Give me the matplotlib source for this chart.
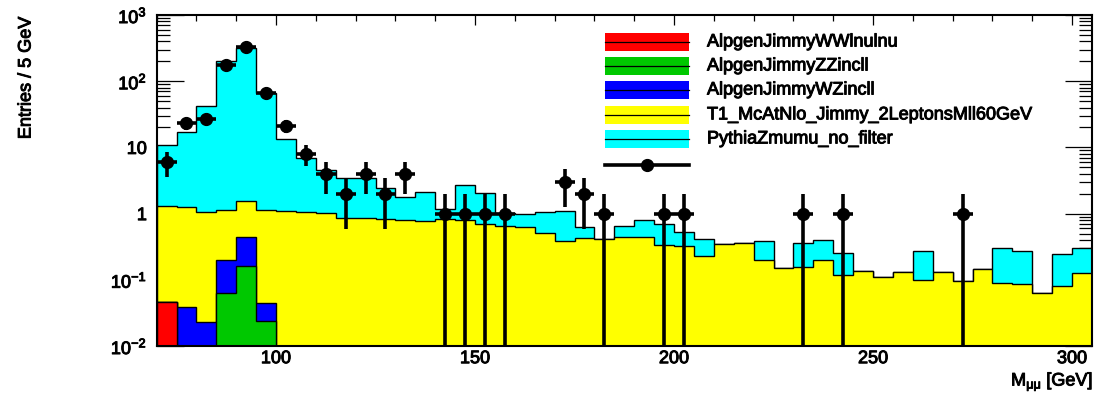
import numpy as np
import matplotlib
matplotlib.use('Agg')
import matplotlib.pyplot as plt
import matplotlib.patheffects as pe
from matplotlib.patches import Rectangle
from matplotlib.lines import Line2D
from matplotlib.ticker import MultipleLocator, LogLocator, NullFormatter

plt.rcParams['font.family'] = 'Liberation Sans'
plt.rcParams['mathtext.fontset'] = 'custom'
plt.rcParams['mathtext.rm'] = 'Liberation Sans'
plt.rcParams['mathtext.it'] = 'Liberation Sans:italic'
plt.rcParams['mathtext.bf'] = 'Liberation Sans:bold'

# 5 GeV bins from 70 to 305 GeV
edges = np.arange(70, 310, 5)
nbins = len(edges) - 1

# per-sample expected entries per bin
ww = np.zeros(nbins)
ww[0] = 0.046

zz = np.zeros(nbins)
zz[3:6] = [0.063, 0.16, 0.024]

wz = np.zeros(nbins)
wz[1:6] = [0.039, 0.023, 0.134, 0.29, 0.021]

t1 = np.array([1.25, 1.23, 1.03, 0.95, 1.10, 1.07, 1.10, 1.05, 1.03, 0.86,
               0.85, 0.83, 0.80, 0.77, 0.82, 0.80, 0.69, 0.65, 0.62, 0.515,
               0.38, 0.43, 0.42, 0.45, 0.44, 0.34, 0.32, 0.23, 0.35, 0.365,
               0.20, 0.153, 0.158, 0.20, 0.12, 0.136, 0.111, 0.13, 0.099, 0.13,
               0.096, 0.148, 0.09, 0.085, 0.063, 0.081, 0.126])

zmumu = np.array([9.7, 15.6, 40.5, 204, 320, 65, 12.5, 5.75, 3.47, 2.64,
                  2.65, 1.62, 1.00, 1.37, 0.34, 1.86, 1.38, 0.38, 0.35, 0.535,
                  0.71, 0.19, 0.0, 0.19, 0.36, 0.35, 0.21, 0.18, 0.0, 0.0,
                  0.19, 0.0, 0.198, 0.20, 0.13, 0.0, 0.0, 0.0, 0.176, 0.0,
                  0.0, 0.0, 0.216, 0.187, 0.0, 0.168, 0.18])

data = np.array([6, 23, 27, 178, 331, 67, 21, 8, 4, 2, 4, 2, 4, 0,
                 1, 1, 1, 1, 0, 0, 3, 2, 1, 0, 0, 1, 1, 0, 0, 0, 0, 0,
                 1, 0, 1, 0, 0, 0, 0, 0, 1, 0, 0, 0, 0, 0, 0])

samples = ['AlpgenJimmyWWlnulnu', 'AlpgenJimmyZZincll', 'AlpgenJimmyWZincll',
           'T1_McAtNlo_Jimmy_2LeptonsMll60GeV', 'PythiaZmumu_no_filter']
colors = ['#ff0000', '#00c800', '#0000ff', '#ffff00', '#00ffff']
ytick_vals = [1e-2, 1e-1, 1, 10, 1e2, 1e3]
ytick_labels = [r'$\mathregular{10^{-2}}$', r'$\mathregular{10^{-1}}$', '1', '10',
                r'$\mathregular{10^{2}}$', r'$\mathregular{10^{3}}$']

# slightly heavier glyphs
heavy = [pe.withStroke(linewidth=0.7, foreground='black')]

W, H = 1099, 408
fig = plt.figure(figsize=(W / 100, H / 100), dpi=100)
ax = fig.add_axes([156.6 / W, 1 - 346 / H, (1092 - 156.6) / W, (346 - 15) / H])
ax.set_yscale('log')

# stacked histogram: draw the cumulative sums from the top layer down
stack = np.cumsum([ww, zz, wz, t1, zmumu], axis=0)
floor = 1e-4
for i in range(len(samples) - 1, -1, -1):
    ax.stairs(np.maximum(stack[i], floor), edges, baseline=floor, fill=True,
              facecolor=colors[i], edgecolor='black', lw=1.0, zorder=2)

# data points with poisson errors
centers = 0.5 * (edges[:-1] + edges[1:])
has = data > 0
n = data[has].astype(float)
err_up = np.sqrt(n)
err_lo = np.minimum(np.sqrt(n), n - 1e-5)
ax.errorbar(centers[has], n, xerr=2.5, yerr=[err_lo, err_up], fmt='o',
            color='black', ms=8.5, elinewidth=2.6, capsize=0, zorder=5)

ax.set_xlim(70, 305)
ax.set_ylim(1e-2, 1e3)

ax.xaxis.set_major_locator(MultipleLocator(50))
ax.xaxis.set_minor_locator(MultipleLocator(10))
ax.set_yticks(ytick_vals, labels=ytick_labels)
ax.yaxis.set_minor_locator(LogLocator(base=10, subs=np.arange(2, 10)))
ax.yaxis.set_minor_formatter(NullFormatter())

ax.tick_params(which='both', direction='in', top=True, right=True,
               width=0.9, labelsize=13)
ax.tick_params(axis='x', which='major', length=7.2, pad=3)
ax.tick_params(axis='x', which='minor', length=4.3)
ax.tick_params(axis='y', which='major', length=19.4, pad=7)
ax.tick_params(axis='y', which='minor', length=9.4)
for lab in ax.get_xticklabels() + ax.get_yticklabels():
    lab.set_path_effects(heavy)
for s in ax.spines.values():
    s.set_linewidth(1.5)
    s.set_zorder(6)

fig.text(26 / W, 1 - 17 / H, 'Entries / 5 GeV', rotation=90,
         ha='center', va='top', fontsize=13, path_effects=heavy)
fig.text(1093 / W, 1 - 382 / H, r'M$_{\mathrm{μμ}}$ [GeV]',
         ha='right', va='center', fontsize=13, path_effects=heavy)

# legend
row_y = [42, 66, 90, 115, 139, 165]
box_x0, box_x1, text_x = 605, 689, 707
sw_h = 18
for i, name in enumerate(samples):
    yc = row_y[i]
    fig.add_artist(Rectangle((box_x0 / W, 1 - (yc + sw_h / 2) / H),
                             (box_x1 - box_x0) / W, sw_h / H,
                             facecolor=colors[i], edgecolor='none',
                             transform=fig.transFigure))
    fig.add_artist(Line2D([box_x0 / W, box_x1 / W], [1 - yc / H, 1 - yc / H],
                          color='black', lw=0.9, transform=fig.transFigure))
    fig.text(text_x / W, 1 - yc / H, name, ha='left', va='center',
             fontsize=13, path_effects=heavy)
yc = row_y[-1]
fig.add_artist(Line2D([box_x0 / W, box_x1 / W], [1 - yc / H, 1 - yc / H],
                      color='black', lw=2.6, transform=fig.transFigure))
fig.add_artist(Line2D([(box_x0 + box_x1) / 2 / W], [1 - yc / H], marker='o',
                      ms=8.5, color='black', transform=fig.transFigure))

fig.savefig('out.png', dpi=100)
